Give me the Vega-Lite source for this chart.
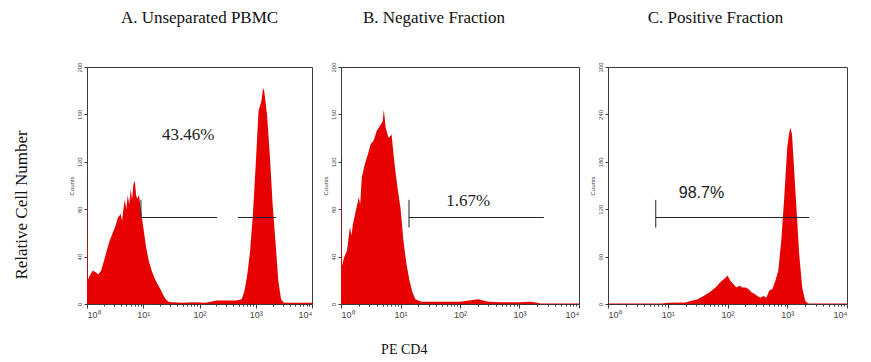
{
  "$schema": "https://vega.github.io/schema/vega-lite/v6.json",
  "background": "white",
  "padding": {"left": 12, "top": 8, "right": 5, "bottom": 6},
  "spacing": 8,
  "config": {
    "view": {"stroke": "#3a3a3a", "strokeWidth": 1},
    "axis": {"grid": false, "domainColor": "#3a3a3a", "tickColor": "#3a3a3a", "labelColor": "#444", "titleColor": "#444", "labelFont": "Liberation Sans", "titleFont": "Liberation Sans", "titleFontWeight": "normal"},
    "title": {"font": "Liberation Serif", "fontWeight": "normal", "color": "#111", "anchor": "middle"}
  },
  "datasets": {
    "hist": [
      {"panel": "A", "x": 1, "count": 112},
      {"panel": "A", "x": 1.03, "count": 20},
      {"panel": "A", "x": 1.122, "count": 24},
      {"panel": "A", "x": 1.259, "count": 28},
      {"panel": "A", "x": 1.413, "count": 27},
      {"panel": "A", "x": 1.585, "count": 25},
      {"panel": "A", "x": 1.778, "count": 28},
      {"panel": "A", "x": 1.995, "count": 36},
      {"panel": "A", "x": 2.239, "count": 45},
      {"panel": "A", "x": 2.512, "count": 53},
      {"panel": "A", "x": 2.818, "count": 59},
      {"panel": "A", "x": 3.162, "count": 65},
      {"panel": "A", "x": 3.548, "count": 73},
      {"panel": "A", "x": 3.981, "count": 76},
      {"panel": "A", "x": 4.2, "count": 70},
      {"panel": "A", "x": 4.467, "count": 81},
      {"panel": "A", "x": 4.7, "count": 88},
      {"panel": "A", "x": 5.012, "count": 80},
      {"panel": "A", "x": 5.3, "count": 92},
      {"panel": "A", "x": 5.623, "count": 84},
      {"panel": "A", "x": 6.0, "count": 97},
      {"panel": "A", "x": 6.31, "count": 88},
      {"panel": "A", "x": 6.7, "count": 101},
      {"panel": "A", "x": 7.079, "count": 104},
      {"panel": "A", "x": 7.5, "count": 91},
      {"panel": "A", "x": 7.943, "count": 89},
      {"panel": "A", "x": 8.4, "count": 92},
      {"panel": "A", "x": 8.913, "count": 82},
      {"panel": "A", "x": 10, "count": 65},
      {"panel": "A", "x": 11.22, "count": 48},
      {"panel": "A", "x": 12.59, "count": 36},
      {"panel": "A", "x": 14.13, "count": 28},
      {"panel": "A", "x": 15.85, "count": 22},
      {"panel": "A", "x": 17.78, "count": 17},
      {"panel": "A", "x": 19.95, "count": 13},
      {"panel": "A", "x": 22.39, "count": 8},
      {"panel": "A", "x": 25.12, "count": 4},
      {"panel": "A", "x": 28.18, "count": 2},
      {"panel": "A", "x": 31.62, "count": 1.5},
      {"panel": "A", "x": 50, "count": 1},
      {"panel": "A", "x": 80, "count": 1.5},
      {"panel": "A", "x": 126, "count": 1},
      {"panel": "A", "x": 158.5, "count": 2},
      {"panel": "A", "x": 200, "count": 3},
      {"panel": "A", "x": 316, "count": 3},
      {"panel": "A", "x": 446, "count": 3},
      {"panel": "A", "x": 562.3, "count": 4},
      {"panel": "A", "x": 631, "count": 11},
      {"panel": "A", "x": 707.9, "count": 25},
      {"panel": "A", "x": 794.3, "count": 45},
      {"panel": "A", "x": 891.3, "count": 76},
      {"panel": "A", "x": 1000, "count": 118},
      {"panel": "A", "x": 1122, "count": 163},
      {"panel": "A", "x": 1259, "count": 171},
      {"panel": "A", "x": 1349, "count": 182},
      {"panel": "A", "x": 1413, "count": 180},
      {"panel": "A", "x": 1585, "count": 160},
      {"panel": "A", "x": 1778, "count": 126},
      {"panel": "A", "x": 1995, "count": 84},
      {"panel": "A", "x": 2239, "count": 53},
      {"panel": "A", "x": 2512, "count": 20},
      {"panel": "A", "x": 2818, "count": 4},
      {"panel": "A", "x": 3162, "count": 1},
      {"panel": "A", "x": 10000, "count": 1},

      {"panel": "B", "x": 1, "count": 115},
      {"panel": "B", "x": 1.03, "count": 31},
      {"panel": "B", "x": 1.122, "count": 39},
      {"panel": "B", "x": 1.259, "count": 45},
      {"panel": "B", "x": 1.413, "count": 65},
      {"panel": "B", "x": 1.5, "count": 58},
      {"panel": "B", "x": 1.585, "count": 67},
      {"panel": "B", "x": 1.778, "count": 79},
      {"panel": "B", "x": 1.995, "count": 90},
      {"panel": "B", "x": 2.1, "count": 84},
      {"panel": "B", "x": 2.239, "count": 107},
      {"panel": "B", "x": 2.512, "count": 118},
      {"panel": "B", "x": 2.818, "count": 126},
      {"panel": "B", "x": 3.162, "count": 135},
      {"panel": "B", "x": 3.548, "count": 138},
      {"panel": "B", "x": 3.981, "count": 146},
      {"panel": "B", "x": 4.467, "count": 150},
      {"panel": "B", "x": 5.012, "count": 154},
      {"panel": "B", "x": 5.25, "count": 164},
      {"panel": "B", "x": 5.623, "count": 149},
      {"panel": "B", "x": 6.31, "count": 140},
      {"panel": "B", "x": 7.079, "count": 143},
      {"panel": "B", "x": 7.943, "count": 118},
      {"panel": "B", "x": 8.913, "count": 98},
      {"panel": "B", "x": 10, "count": 81},
      {"panel": "B", "x": 11.22, "count": 53},
      {"panel": "B", "x": 12.59, "count": 34},
      {"panel": "B", "x": 14.13, "count": 20},
      {"panel": "B", "x": 15.85, "count": 10},
      {"panel": "B", "x": 17.78, "count": 4},
      {"panel": "B", "x": 19.95, "count": 3},
      {"panel": "B", "x": 22.39, "count": 2},
      {"panel": "B", "x": 50, "count": 2},
      {"panel": "B", "x": 100, "count": 2},
      {"panel": "B", "x": 200, "count": 4},
      {"panel": "B", "x": 300, "count": 2},
      {"panel": "B", "x": 500, "count": 1.5},
      {"panel": "B", "x": 1000, "count": 1.5},
      {"panel": "B", "x": 1500, "count": 2},
      {"panel": "B", "x": 2000, "count": 1},
      {"panel": "B", "x": 2239, "count": 0.5},
      {"panel": "B", "x": 10000, "count": 0.5},

      {"panel": "C", "x": 1, "count": 0.5},
      {"panel": "C", "x": 8, "count": 0.5},
      {"panel": "C", "x": 10, "count": 1.5},
      {"panel": "C", "x": 20, "count": 2},
      {"panel": "C", "x": 25.12, "count": 4},
      {"panel": "C", "x": 31.62, "count": 6},
      {"panel": "C", "x": 39.81, "count": 10},
      {"panel": "C", "x": 50.12, "count": 15},
      {"panel": "C", "x": 63.1, "count": 21},
      {"panel": "C", "x": 70.79, "count": 25},
      {"panel": "C", "x": 79.43, "count": 29},
      {"panel": "C", "x": 89.13, "count": 32},
      {"panel": "C", "x": 100, "count": 36},
      {"panel": "C", "x": 112.2, "count": 29},
      {"panel": "C", "x": 125.9, "count": 25},
      {"panel": "C", "x": 141.3, "count": 21},
      {"panel": "C", "x": 158.5, "count": 23},
      {"panel": "C", "x": 177.8, "count": 21},
      {"panel": "C", "x": 199.5, "count": 21},
      {"panel": "C", "x": 223.9, "count": 19},
      {"panel": "C", "x": 251.2, "count": 15},
      {"panel": "C", "x": 281.8, "count": 13},
      {"panel": "C", "x": 316.2, "count": 10},
      {"panel": "C", "x": 354.8, "count": 8},
      {"panel": "C", "x": 398.1, "count": 10},
      {"panel": "C", "x": 446.7, "count": 8},
      {"panel": "C", "x": 501.2, "count": 17},
      {"panel": "C", "x": 562.3, "count": 19},
      {"panel": "C", "x": 631, "count": 29},
      {"panel": "C", "x": 707.9, "count": 42},
      {"panel": "C", "x": 794.3, "count": 80},
      {"panel": "C", "x": 891.3, "count": 135},
      {"panel": "C", "x": 1000, "count": 198},
      {"panel": "C", "x": 1072, "count": 215},
      {"panel": "C", "x": 1122, "count": 223},
      {"panel": "C", "x": 1202, "count": 215},
      {"panel": "C", "x": 1259, "count": 189},
      {"panel": "C", "x": 1413, "count": 126},
      {"panel": "C", "x": 1585, "count": 63},
      {"panel": "C", "x": 1778, "count": 21},
      {"panel": "C", "x": 1995, "count": 4},
      {"panel": "C", "x": 2239, "count": 0.5},
      {"panel": "C", "x": 10000, "count": 0.5}
    ],
    "segments": [
      {"panel": "A", "x": 9.1, "x2": 205, "y": 73, "y2": 73},
      {"panel": "A", "x": 484, "x2": 2300, "y": 73, "y2": 73},
      {"panel": "A", "x": 9.1, "x2": 9.1, "y": 73, "y2": 88},
      {"panel": "B", "x": 13.9, "x2": 2570, "y": 73, "y2": 73},
      {"panel": "B", "x": 13.9, "x2": 13.9, "y": 64.6, "y2": 87.9},
      {"panel": "C", "x": 6.3, "x2": 2330, "y": 109.5, "y2": 109.5},
      {"panel": "C", "x": 6.3, "x2": 6.3, "y": 96.8, "y2": 131.8}
    ],
    "labels": [
      {"panel": "A", "x": 63, "y": 143, "label": "43.46%"},
      {"panel": "B", "x": 138, "y": 87, "label": "1.67%"},
      {"panel": "C", "x": 36.7, "y": 141, "label": "98.7%"}
    ]
  },
  "title": {"text": "PE CD4", "orient": "bottom", "fontSize": 14, "offset": 23, "dx": -26},
  "hconcat": [
    {
      "title": {"text": "Relative Cell Number", "orient": "left", "fontSize": 17, "offset": 37, "dx": -41},
      "hconcat": [
        {
          "width": 225, "height": 237,
          "title": {"text": "A. Unseparated PBMC", "fontSize": 17, "offset": 35},
          "layer": [
            {
              "data": {"name": "hist"},
              "transform": [{"filter": "datum.panel == 'A'"}],
              "mark": {"type": "area", "color": "#e60000", "interpolate": "linear"},
              "encoding": {
                "x": {"field": "x", "type": "quantitative", "scale": {"type": "log", "domain": [1, 10000]},
                  "axis": {"title": null, "values": [1,2,3,4,5,6,7,8,9,10,20,30,40,50,60,70,80,90,100,200,300,400,500,600,700,800,900,1000,2000,3000,4000,5000,6000,7000,8000,9000,10000],
                    "labelExpr": "datum.value==1?'10⁰':datum.value==10?'10¹':datum.value==100?'10²':datum.value==1000?'10³':datum.value==10000?'10⁴':''",
                    "labelOverlap": false, "labelFontSize": 9, "labelPadding": 2,
                    "tickSize": {"condition": {"test": "datum.value==1||datum.value==10||datum.value==100||datum.value==1000||datum.value==10000", "value": 4}, "value": 2}}},
                "y": {"field": "count", "type": "quantitative", "stack": null, "scale": {"domain": [0, 200]},
                  "axis": {"title": "Counts", "titleFontSize": 6, "titlePadding": 2, "values": [0,10,20,30,40,50,60,70,80,90,100,110,120,130,140,150,160,170,180,190,200],
                    "labelExpr": "datum.value % 40 == 0 ? datum.label : ''", "labelAngle": 270, "labelAlign": "center", "labelBaseline": "bottom", "labelFontSize": 6, "labelPadding": 2, "labelOverlap": false,
                    "tickSize": {"condition": {"test": "datum.value % 40 == 0", "value": 3}, "value": 2}}}
              }
            },
            {
              "data": {"name": "segments"},
              "transform": [{"filter": "datum.panel == 'A'"}],
              "mark": {"type": "rule", "color": "#222", "strokeWidth": 1},
              "encoding": {"x": {"field": "x", "type": "quantitative"}, "x2": {"field": "x2"}, "y": {"field": "y", "type": "quantitative"}, "y2": {"field": "y2"}}
            },
            {
              "data": {"name": "labels"},
              "transform": [{"filter": "datum.panel == 'A'"}],
              "mark": {"type": "text", "font": "Liberation Serif", "fontSize": 17, "color": "#222"},
              "encoding": {"x": {"field": "x", "type": "quantitative"}, "y": {"field": "y", "type": "quantitative"}, "text": {"field": "label"}}
            }
          ]
        }
      ]
    },
    {
      "width": 238, "height": 237,
      "title": {"text": "B. Negative Fraction", "fontSize": 17, "offset": 35, "dx": -26},
      "layer": [
        {
          "data": {"name": "hist"},
          "transform": [{"filter": "datum.panel == 'B'"}],
          "mark": {"type": "area", "color": "#e60000", "interpolate": "linear"},
          "encoding": {
            "x": {"field": "x", "type": "quantitative", "scale": {"type": "log", "domain": [1, 10000]},
              "axis": {"title": null, "values": [1,2,3,4,5,6,7,8,9,10,20,30,40,50,60,70,80,90,100,200,300,400,500,600,700,800,900,1000,2000,3000,4000,5000,6000,7000,8000,9000,10000],
                "labelExpr": "datum.value==1?'10⁰':datum.value==10?'10¹':datum.value==100?'10²':datum.value==1000?'10³':datum.value==10000?'10⁴':''",
                "labelOverlap": false, "labelFontSize": 9, "labelPadding": 2,
                "tickSize": {"condition": {"test": "datum.value==1||datum.value==10||datum.value==100||datum.value==1000||datum.value==10000", "value": 4}, "value": 2}}},
            "y": {"field": "count", "type": "quantitative", "stack": null, "scale": {"domain": [0, 200]},
              "axis": {"title": "Counts", "titleFontSize": 6, "titlePadding": 2, "values": [0,10,20,30,40,50,60,70,80,90,100,110,120,130,140,150,160,170,180,190,200],
                "labelExpr": "datum.value % 40 == 0 ? datum.label : ''", "labelAngle": 270, "labelAlign": "center", "labelBaseline": "bottom", "labelFontSize": 6, "labelPadding": 2, "labelOverlap": false,
                "tickSize": {"condition": {"test": "datum.value % 40 == 0", "value": 3}, "value": 2}}}
          }
        },
        {
          "data": {"name": "segments"},
          "transform": [{"filter": "datum.panel == 'B'"}],
          "mark": {"type": "rule", "color": "#222", "strokeWidth": 1},
          "encoding": {"x": {"field": "x", "type": "quantitative"}, "x2": {"field": "x2"}, "y": {"field": "y", "type": "quantitative"}, "y2": {"field": "y2"}}
        },
        {
          "data": {"name": "labels"},
          "transform": [{"filter": "datum.panel == 'B'"}],
          "mark": {"type": "text", "font": "Liberation Serif", "fontSize": 17, "color": "#222"},
          "encoding": {"x": {"field": "x", "type": "quantitative"}, "y": {"field": "y", "type": "quantitative"}, "text": {"field": "label"}}
        }
      ]
    },
    {
      "width": 239, "height": 237,
      "title": {"text": "C. Positive Fraction", "fontSize": 17, "offset": 35, "dx": -12},
      "layer": [
        {
          "data": {"name": "hist"},
          "transform": [{"filter": "datum.panel == 'C'"}],
          "mark": {"type": "area", "color": "#e60000", "interpolate": "linear"},
          "encoding": {
            "x": {"field": "x", "type": "quantitative", "scale": {"type": "log", "domain": [1, 10000]},
              "axis": {"title": null, "values": [1,2,3,4,5,6,7,8,9,10,20,30,40,50,60,70,80,90,100,200,300,400,500,600,700,800,900,1000,2000,3000,4000,5000,6000,7000,8000,9000,10000],
                "labelExpr": "datum.value==1?'10⁰':datum.value==10?'10¹':datum.value==100?'10²':datum.value==1000?'10³':datum.value==10000?'10⁴':''",
                "labelOverlap": false, "labelFontSize": 9, "labelPadding": 2,
                "tickSize": {"condition": {"test": "datum.value==1||datum.value==10||datum.value==100||datum.value==1000||datum.value==10000", "value": 4}, "value": 2}}},
            "y": {"field": "count", "type": "quantitative", "stack": null, "scale": {"domain": [0, 300]},
              "axis": {"title": "Counts", "titleFontSize": 6, "titlePadding": 2, "values": [0,15,30,45,60,75,90,105,120,135,150,165,180,195,210,225,240,255,270,285,300],
                "labelExpr": "datum.value % 60 == 0 ? datum.label : ''", "labelAngle": 270, "labelAlign": "center", "labelBaseline": "bottom", "labelFontSize": 6, "labelPadding": 2, "labelOverlap": false,
                "tickSize": {"condition": {"test": "datum.value % 60 == 0", "value": 3}, "value": 2}}}
          }
        },
        {
          "data": {"name": "segments"},
          "transform": [{"filter": "datum.panel == 'C'"}],
          "mark": {"type": "rule", "color": "#222", "strokeWidth": 1},
          "encoding": {"x": {"field": "x", "type": "quantitative"}, "x2": {"field": "x2"}, "y": {"field": "y", "type": "quantitative"}, "y2": {"field": "y2"}}
        },
        {
          "data": {"name": "labels"},
          "transform": [{"filter": "datum.panel == 'C'"}],
          "mark": {"type": "text", "font": "Liberation Sans", "fontSize": 16, "color": "#222"},
          "encoding": {"x": {"field": "x", "type": "quantitative"}, "y": {"field": "y", "type": "quantitative"}, "text": {"field": "label"}}
        }
      ]
    }
  ]
}
